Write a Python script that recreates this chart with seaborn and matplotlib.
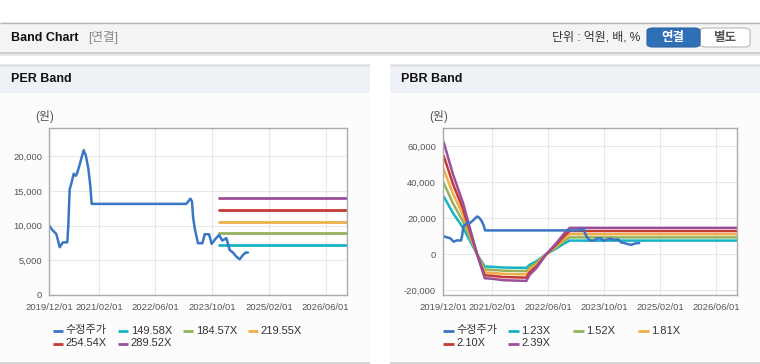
import pandas as pd
import matplotlib.pyplot as plt
import matplotlib.dates as mdates
from matplotlib.patches import Rectangle, FancyBboxPatch
from matplotlib.lines import Line2D
from matplotlib.ticker import FuncFormatter
import seaborn as sns

# adjusted close (수정주가)
price_dates = ["2019-12-05", "2019-12-29", "2020-02-02", "2020-03-02", "2020-03-30",
               "2020-05-06", "2020-05-15", "2020-05-26", "2020-06-10", "2020-06-30",
               "2020-07-17", "2020-07-28", "2020-08-20", "2020-09-23", "2020-10-11",
               "2020-11-02", "2020-11-20", "2020-12-01", "2023-02-21", "2023-03-10",
               "2023-03-28", "2023-04-11", "2023-04-20", "2023-05-04", "2023-06-01",
               "2023-07-09", "2023-07-29", "2023-09-04", "2023-09-27", "2023-10-22",
               "2023-11-29", "2023-12-27", "2024-01-31", "2024-02-28", "2024-03-28",
               "2024-04-25", "2024-05-24", "2024-06-22", "2024-07-14", "2024-08-03"]
price = [9975, 9400, 8800, 6900, 7600, 7600, 10100, 15200, 16100, 17500,
         17200, 17500, 18800, 20900, 20200, 18300, 15700, 13150, 13150, 13500,
         13900, 13500, 11300, 9650, 7470, 7470, 8770, 8770, 7370, 7950,
         8670, 7850, 8200, 6500, 6120, 5540, 5160, 5780, 6120, 6120]

# PER bands (flat)
per_labels = ["149.58X", "184.57X", "219.55X", "254.54X", "289.52X"]
per_dates = ["2023-12-01", "2026-12-01"]
per_values = [7200, 8880, 10560, 12240, 13930]

# PBR bands
pbr_labels = ["1.23X", "1.52X", "1.81X", "2.10X", "2.39X"]
pbr_dates = ["2019-12-07", "2020-02-26", "2020-05-23", "2020-09-22", "2020-11-28",
             "2021-02-08", "2021-05-06", "2021-11-25", "2021-12-24", "2022-02-20",
             "2022-05-18", "2022-08-13", "2022-10-24", "2022-12-07", "2026-12-01"]
pbr_123 = [31980, 22760, 14640, 0, -6890, -7070, -7450, -7650, -5900, -4010, 0, 3150, 6030, 7500, 7500]
pbr_152 = [39520, 28120, 18090, 0, -8510, -8740, -9210, -9450, -7300, -4960, 0, 3890, 7450, 9270, 9270]
pbr_181 = [47060, 33490, 21540, 0, -10140, -10410, -10970, -11260, -8690, -5900, 0, 4630, 8870, 11040, 11040]
pbr_210 = [54600, 38850, 24990, 0, -11760, -12080, -12730, -13060, -10080, -6850, 0, 5380, 10290, 12810, 12810]
pbr_239 = [62140, 44220, 28440, 0, -13380, -13740, -14480, -14870, -11470, -7790, 0, 6120, 11710, 14580, 14580]

x_ticks = ["2019-12-01", "2021-02-01", "2022-06-01", "2023-10-01", "2025-02-01", "2026-06-01"]
x_range = ["2019-12-01", "2026-12-01"]

price_color = "#3a76c4"
band_colors = ["#16b3c4", "#94b35a", "#eeaf48", "#c63a32", "#9a4f9a"]

sns.set_theme(style="white")
plt.rcParams["font.family"] = ["Liberation Sans", "Noto Sans CJK KR", "DejaVu Sans"]

W, H = 760, 364
fig = plt.figure(figsize=(7.6, 3.64), dpi=100)


def fx(x):
    return x / W


def fy(y):
    return 1 - y / H


def rect(x0, y0, x1, y1, color):
    fig.patches.append(Rectangle((fx(x0), fy(y1)), (x1 - x0) / W, (y1 - y0) / H,
                                 transform=fig.transFigure, facecolor=color,
                                 edgecolor="none", zorder=-5))


def hline(x0, x1, y, color, lw=1.0, z=-4):
    fig.lines.append(Line2D([fx(x0), fx(x1)], [fy(y), fy(y)], transform=fig.transFigure,
                            color=color, lw=lw, zorder=z, solid_capstyle="butt"))


# page header
rect(0, 22, W, 53, "#f4f4f4")
hline(0, W, 22.5, "#b5b5b5")
hline(0, W, 53, "#c4c4c4", 1.2)
hline(0, W, 54.5, "#e4e4e4", 1.2)
fig.text(fx(11), fy(38), "Band Chart", fontsize=9, fontweight="bold", color="#111",
         va="center", ha="left")
fig.text(fx(88), fy(38), "[연결]", fontsize=9, color="#8a8a8a", va="center", ha="left")
fig.text(fx(640), fy(38), "단위 : 억원, 배, %", fontsize=8.6, color="#333", va="center", ha="right")
fig.patches.append(FancyBboxPatch((fx(700), fy(47)), 50 / W, 19 / H,
                                  boxstyle="round,pad=0,rounding_size=0.008",
                                  transform=fig.transFigure, facecolor="white",
                                  edgecolor="#b8b8b8", lw=0.8))
fig.patches.append(FancyBboxPatch((fx(647), fy(47)), 53 / W, 19 / H,
                                  boxstyle="round,pad=0,rounding_size=0.008",
                                  transform=fig.transFigure, facecolor="#2f6fb5",
                                  edgecolor="#2a63a3", lw=0.8))
fig.text(fx(673), fy(37.5), "연결", fontsize=9, fontweight="bold", color="white",
         va="center", ha="center")
fig.text(fx(725), fy(37.5), "별도", fontsize=9, fontweight="bold", color="#555",
         va="center", ha="center")

# panels
for px0, px1, title in [(0, 370, "PER Band"), (390, W, "PBR Band")]:
    rect(px0, 93, px1, 362, "#fcfcfc")
    rect(px0, 64, px1, 93, "#eef1f6")
    hline(px0, px1, 64.5, "#d6d6d6")
    hline(px0, px1, 362.5, "#cfcfcf", 1.2)
    fig.text(fx(px0 + 11), fy(79), title, fontsize=9, fontweight="bold", color="#111",
             va="center", ha="left")

ax1 = fig.add_axes([fx(49), fy(295), (347 - 49) / W, (295 - 128) / H])
ax2 = fig.add_axes([fx(443), fy(295), (737 - 443) / W, (295 - 128) / H])

pdates = pd.to_datetime(price_dates)

# PER
for lab, val, col in zip(per_labels, per_values, band_colors):
    sns.lineplot(x=pd.to_datetime(per_dates), y=[val, val], ax=ax1, color=col, lw=2)
sns.lineplot(x=pdates, y=price, ax=ax1, color=price_color, lw=1.8)

# PBR
pbr_series = [pbr_123, pbr_152, pbr_181, pbr_210, pbr_239]
for vals, col in zip(pbr_series, band_colors):
    sns.lineplot(x=pd.to_datetime(pbr_dates), y=vals, ax=ax2, color=col, lw=1.8)
sns.lineplot(x=pdates, y=price, ax=ax2, color=price_color, lw=1.8)

ax1.set_ylim(0, 24100)
ax1.set_yticks([0, 5000, 10000, 15000, 20000])
ax2.set_ylim(-22700, 70000)
ax2.set_yticks([-20000, 0, 20000, 40000, 60000])

for ax, labels, lx in [(ax1, per_labels, 52.7), (ax2, pbr_labels, 443.3)]:
    ax.set_facecolor("white")
    ax.set_xlim(pd.to_datetime(x_range))
    ax.set_xticks(pd.to_datetime(x_ticks))
    ax.xaxis.set_major_formatter(mdates.DateFormatter("%Y/%m/%d"))
    ax.yaxis.set_major_formatter(FuncFormatter(lambda v, p: f"{int(v):,}"))
    ax.grid(True, color="#e8e8e8", lw=0.8)
    ax.set_axisbelow(True)
    for s in ax.spines.values():
        s.set_color("#ababab")
        s.set_linewidth(1)
    ax.tick_params(axis="both", labelsize=6.8, colors="#555", length=3, width=0.8,
                   color="#ababab", pad=2)
    ax.tick_params(axis="x", pad=3)
    ax.set_xlabel("")
    ax.set_ylabel("")
    ax.text(-0.015, 1.066, "(원)", transform=ax.transAxes, fontsize=8.5, color="#555",
            ha="center", va="center")
    # legend with fixed 65px columns, two rows
    names = ["수정주가"] + labels
    cols = [price_color] + band_colors
    for i, (name, c) in enumerate(zip(names, cols)):
        x0 = lx + 65 * (i % 4)
        yy = 330.5 + 13 * (i // 4)
        hline(x0, x0 + 10.5, yy, c, lw=2.0, z=3)
        fig.text(fx(x0 + 13), fy(yy), name, fontsize=8, color="#333",
                 ha="left", va="center")

fig.savefig("out.png", dpi=100, facecolor="white")
plt.close(fig)
